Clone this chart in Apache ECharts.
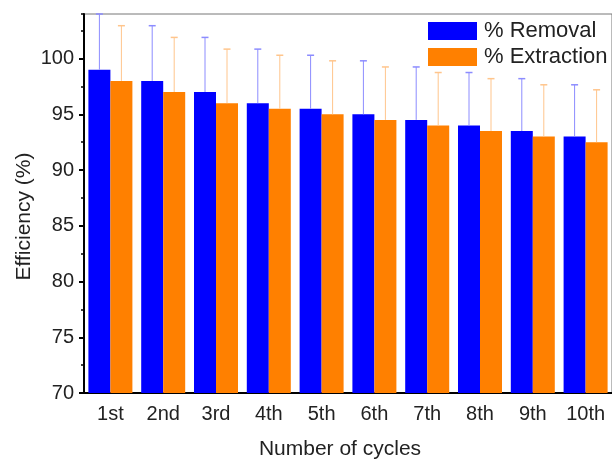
<!DOCTYPE html>
<html>
<head>
<meta charset="utf-8">
<script src="https://cdn.jsdelivr.net/npm/echarts@6/dist/echarts.min.js"></script>
<style>
html, body { margin: 0; padding: 0; background: #fff; }
#cycleChart { width: 612px; height: 465px; }
</style>
</head>
<body>
<div id="cycleChart"></div>
<script>
// values
let cycles = ['1st', '2nd', '3rd', '4th', '5th', '6th', '7th', '8th', '9th', '10th']
let removal = [99, 98, 97, 96, 95.5, 95, 94.5, 94, 93.5, 93]
let extraction = [98, 97, 96, 95.5, 95, 94.5, 94, 93.5, 93, 92.5]
// upper error (only the plus side is drawn)
let removalErr = [5.0, 4.95, 4.9, 4.85, 4.8, 4.8, 4.75, 4.75, 4.7, 4.65]
let extractionErr = [4.95, 4.9, 4.85, 4.8, 4.8, 4.75, 4.75, 4.7, 4.65, 4.7]

let font = 'Arial, "Liberation Sans", sans-serif'
let barW = 22

function errorSeries(name, values, errs, shift, color) {
    return {
        name: name + ' err',
        type: 'custom',
        xAxisIndex: 0,
        yAxisIndex: 0,
        z: 3,
        silent: true,
        data: values.map((v, i) => [i, v, v + errs[i]]),
        renderItem: function(params, api) {
            let low = api.coord([api.value(0), api.value(1)])
            let high = api.coord([api.value(0), api.value(2)])
            let x = low[0] + shift
            return {
                type: 'group',
                children: [
                    {
                        type: 'line',
                        shape: { x1: x, y1: low[1], x2: x, y2: high[1] },
                        style: { stroke: color, lineWidth: 1 }
                    },
                    {
                        type: 'line',
                        shape: { x1: x - 3.5, y1: high[1], x2: x + 3.5, y2: high[1] },
                        style: { stroke: color, lineWidth: 1.5 }
                    }
                ]
            }
        }
    }
}

let chart = echarts.init(document.getElementById('cycleChart'))
let option = {
    animation: false,
    textStyle: { fontFamily: font, color: '#222' },
    grid: {
        left: 84,
        top: 14,
        width: 533,
        height: 380,
        show: true,
        borderColor: '#777',
        borderWidth: 1
    },
    legend: {
        orient: 'vertical',
        left: 428,
        top: 20,
        padding: 0,
        itemWidth: 49,
        itemHeight: 18,
        itemGap: 4,
        icon: 'rect',
        data: ['% Removal', '% Extraction'],
        textStyle: { fontSize: 22, color: '#222', padding: [0, 0, 0, 2] }
    },
    xAxis: [
        {
            type: 'category',
            data: cycles,
            name: 'Number of cycles',
            nameLocation: 'middle',
            nameGap: 46,
            nameMoveOverlap: false,
            nameTextStyle: { fontSize: 21, color: '#222', padding: [0, 16, 0, 0] },
            axisLine: { lineStyle: { color: '#000', width: 2 } },
            axisTick: { alignWithLabel: true, length: 5, lineStyle: { color: '#000', width: 2 } },
            axisLabel: { fontSize: 20, color: '#222', margin: 11 }
        },
        {
            type: 'category',
            data: cycles,
            position: 'bottom',
            axisLine: { show: false },
            axisTick: { length: 3, lineStyle: { color: '#000', width: 1.5 } },
            axisLabel: { show: false }
        }
    ],
    yAxis: [
        {
            type: 'value',
            min: 70,
            max: 104,
            interval: 5,
            name: 'Efficiency (%)',
            nameLocation: 'middle',
            nameGap: 49,
            nameMoveOverlap: false,
            nameTextStyle: { fontSize: 21, color: '#222', padding: [0, 26, 0, 0] },
            axisLine: { show: true, lineStyle: { color: '#000', width: 2 } },
            axisTick: { show: true, length: 5, lineStyle: { color: '#000', width: 2 } },
            axisLabel: { fontSize: 20, color: '#222', margin: 10, showMaxLabel: false },
            splitLine: { show: false }
        },
        {
            type: 'value',
            min: 70,
            max: 104,
            interval: 2.5,
            position: 'left',
            axisLine: { show: false },
            axisTick: { show: true, length: 3, lineStyle: { color: '#000', width: 1.5 } },
            axisLabel: { show: false },
            splitLine: { show: false }
        }
    ],
    series: [
        {
            name: '% Removal',
            type: 'bar',
            barWidth: barW,
            barGap: '0%',
            itemStyle: { color: '#0000ff' },
            data: removal
        },
        {
            name: '% Extraction',
            type: 'bar',
            barWidth: barW,
            barGap: '0%',
            itemStyle: { color: '#ff8000' },
            data: extraction
        },
        errorSeries('% Removal', removal, removalErr, -barW / 2, '#8c8cff'),
        errorSeries('% Extraction', extraction, extractionErr, barW / 2, '#ffc58c')
    ]
}

chart.setOption(option)
window.onresize = function() {
    chart.resize()
}
</script>
</body>
</html>
